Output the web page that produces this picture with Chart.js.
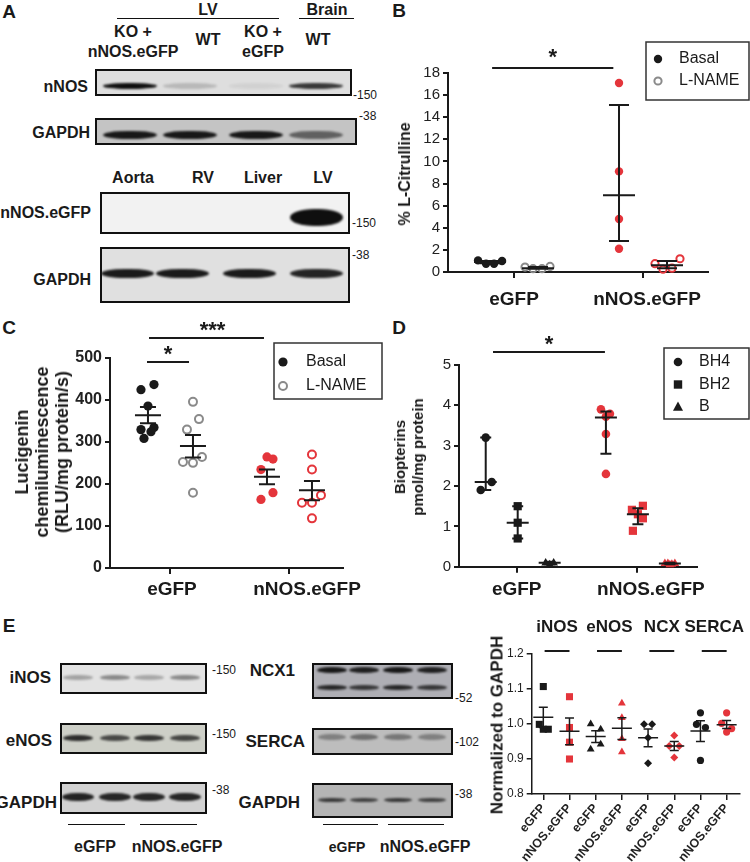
<!DOCTYPE html>
<html>
<head>
<meta charset="utf-8">
<script src="https://cdn.jsdelivr.net/npm/chart.js@4.4.1/dist/chart.umd.min.js"></script>
<style>
  html, body { margin: 0; padding: 0; background: #fff; }
  body { position: relative; width: 750px; height: 862px; overflow: hidden;
         font-family: 'Liberation Sans', Arial, sans-serif; color: #1a1a1a; }
  .t { position: absolute; white-space: pre; line-height: 1; }
  .blot { position: absolute; border: 2px solid #111; box-sizing: border-box; overflow: hidden; }
  .band { position: absolute; border-radius: 45% / 50%; filter: blur(1.2px); }
  .rule { position: absolute; height: 0; border-top: 1.5px solid #111; }
  canvas { position: absolute; }
</style>
</head>
<body>
<script>
// ---------- data ----------
// B: % L-Citrulline
const bCats = ['eGFP', 'nNOS.eGFP'];
const bYTicks = [0, 2, 4, 6, 8, 10, 12, 14, 16, 18];
const bBasal = [[1.05, 0.75, 0.75, 1.0], [17.1, 9.1, 4.8, 2.1]];
const bLname = [[0.45, 0.3, 0.3, 0.5], [0.75, 0.25, 0.35, 1.2]];
const bBasalMid = [0.9, 6.95], bBasalLo = [0.8, 2.8], bBasalHi = [1.0, 15.1];
const bLnameMid = [0.35, 0.6], bLnameLo = [0.3, 0.35], bLnameHi = [0.45, 1.0];

// C: lucigenin chemiluminescence
const cCats = ['eGFP', 'nNOS.eGFP'];
const cYTicks = [0, 100, 200, 300, 400, 500];
const cBasal = [[424, 436, 385, 329, 334, 324, 308], [264, 259, 234, 179, 163]];
const cLname = [[395, 354, 329, 264, 252, 250, 179], [270, 234, 173, 155, 155, 118]];
const cBasalMid = [363, 217], cBasalLo = [344, 199], cBasalHi = [383, 234];
const cLnameMid = [290, 185], cLnameLo = [263, 161], cLnameHi = [316, 207];

// D: biopterins
const dCats = ['eGFP', 'nNOS.eGFP'];
const dYTicks = [0, 1, 2, 3, 4, 5];
const dBH4 = [[3.2, 2.1, 1.9], [3.9, 3.79, 3.72, 3.29, 2.3]];
const dBH2 = [[1.5, 1.09, 0.7], [1.51, 1.41, 1.3, 1.2, 0.89]];
const dB = [[0.09, 0.09, 0.05], [0.08, 0.08, 0.05, 0.08, 0.06]];
const dBH4Mid = [2.1, 3.7], dBH4Lo = [1.9, 2.8], dBH4Hi = [3.2, 3.85];
const dBH2Mid = [1.09, 1.3], dBH2Lo = [0.7, 1.05], dBH2Hi = [1.5, 1.45];
const dBMid = [0.1, 0.08], dBLo = [0.06, 0.06], dBHi = [0.12, 0.1];

// E: normalized to GAPDH
const eProteins = ['iNOS', 'eNOS', 'NCX', 'SERCA'];
const eCats = ['eGFP', 'nNOS.eGFP', 'eGFP', 'nNOS.eGFP', 'eGFP', 'nNOS.eGFP', 'eGFP', 'nNOS.eGFP'];
const eYTicks = [0.8, 0.9, 1.0, 1.1, 1.2];
const eVals = [
  [1.107, 0.999, 0.985, 0.985], [1.078, 0.99, 0.948, 0.9],
  [1.0, 0.985, 0.942, 0.928], [1.059, 1.018, 0.958, 0.92],
  [0.999, 0.999, 0.961, 0.888], [0.967, 0.937, 0.937, 0.904],
  [1.032, 0.999, 0.99, 0.896], [1.032, 1.002, 0.987, 0.977]
];
const eMid = [1.019, 0.979, 0.964, 0.988, 0.961, 0.937, 0.98, 0.998];
const eLo = [0.99, 0.941, 0.947, 0.956, 0.935, 0.924, 0.95, 0.987];
const eHi = [1.048, 1.017, 0.981, 1.018, 0.986, 0.95, 1.009, 1.01];

// blot band intensities (per lane)
const aNnos = [1.0, 0.18, 0.06, 0.8];
const aGapdh1 = [0.95, 0.95, 0.95, 0.55];
const aNnosGfp = [0, 0, 0, 1.0];
const aGapdh2 = [0.95, 0.95, 0.95, 0.9];
const eInos = [0.3, 0.42, 0.28, 0.42];
const eEnos = [0.85, 0.7, 0.8, 0.72];
const eGapdhL = [0.9, 0.88, 0.88, 0.88];
const eNcxTop = [0.95, 0.9, 0.95, 0.9];
const eNcxLow = [0.85, 0.75, 0.85, 0.75];
const eSerca = [0.35, 0.45, 0.4, 0.35];
const eGapdhR = [0.75, 0.7, 0.75, 0.7];

// horizontal spread of dots inside a group (px), like the prism scatter
const bJitBasal = [[-12, -4, 4, 12], [0, 0, 0, 0]];
const bJitLname = [[-13, -5, 4, 12], [-12, -4, 5, 13]];
const cJitBasal = [[-7, 6, 0, -7, 6, 3, -4], [0, 6, -6, 6, -6]];
const cJitLname = [[0, 6, -6, 9, -10, 0, 0], [0, 0, 9, -10, 0, 0]];
const dJitBH4 = [[0, 6, -5], [-5, 4, 0, 0, 0]];
const dJitBH2 = [[0, 0, 0], [5, -6, 0, 5, -5]];
const dJitB = [[-4, 4, 0], [-5, 5, 0, -2, 2]];
const eJit = [[0, -4, 0, 5], [0, 0, 0, 0], [-5, 5, 5, -5], [0, 0, 0, 0],
              [-4, 4, 0, 0], [0, -5, 5, 0], [0, -4, 5, 0], [0, -5, 5, 0]];

// ---------- helpers ----------
const INK = '#1a1a1a', RED = '#e4353b', GREY = '#8a8a8a';
const FONT = "'Liberation Sans', Arial, sans-serif";
Chart.defaults.font.family = FONT;
Chart.defaults.color = INK;

function put(text, x, y, size, weight, align, rot, extra) {
  const d = document.createElement('div');
  d.className = 't';
  d.textContent = text;
  d.style.left = x + 'px';
  d.style.top = y + 'px';
  d.style.fontSize = size + 'px';
  d.style.fontWeight = weight || 'bold';
  const tx = align === 'r' ? '-100%' : align === 'l' ? '0' : '-50%';
  d.style.transform = `translate(${tx},-50%)` + (rot ? ` rotate(${rot}deg)` : '');
  if (extra) Object.assign(d.style, extra);
  document.body.appendChild(d);
}

function rule(x, y, w) {
  const d = document.createElement('div');
  d.className = 'rule';
  d.style.left = x + 'px'; d.style.top = y + 'px'; d.style.width = w + 'px';
  document.body.appendChild(d);
}

function blot(x, y, w, h, bg, lanes, bw, bands) {
  const b = document.createElement('div');
  b.className = 'blot';
  Object.assign(b.style, { left: x + 'px', top: y + 'px', width: w + 'px', height: h + 'px', background: bg });
  bands.forEach(([ints, by, bh]) => ints.forEach((v, i) => {
    if (v <= 0) return;
    const d = document.createElement('div');
    d.className = 'band';
    Object.assign(d.style, {
      left: (lanes[i] - bw / 2) + 'px', top: (by - bh / 2) + 'px',
      width: bw + 'px', height: bh + 'px', background: `rgba(15,15,15,${v})`
    });
    b.appendChild(d);
  }));
  document.body.appendChild(b);
}

function mark(ctx, style, x, y, r) {
  ctx.beginPath();
  if (style === 'rect') ctx.rect(x - r, y - r, 2 * r, 2 * r);
  else if (style === 'triangle') {
    ctx.moveTo(x, y - r * 1.1); ctx.lineTo(x + r, y + r * 0.75); ctx.lineTo(x - r, y + r * 0.75); ctx.closePath();
  } else ctx.arc(x, y, r, 0, Math.PI * 2);
}

// extra drawing per chart: mean/error bars, significance lines, category labels, legend
const decorCfg = new WeakMap();
Chart.register({
  id: 'decor',
  afterDatasetsDraw(chart) {
    const o = decorCfg.get(chart.canvas);
    if (!o) return;
    const ctx = chart.ctx, sx = chart.scales.x, sy = chart.scales.y;
    const ox = o.box.left, oy = o.box.top;
    ctx.save();
    ctx.strokeStyle = INK; ctx.fillStyle = INK;
    ctx.lineWidth = o.lw;
    o.stats.forEach(s => {
      const cx = sx.getPixelForValue(s.x);
      const ym = sy.getPixelForValue(s.mid), yl = sy.getPixelForValue(s.lo), yh = sy.getPixelForValue(s.hi);
      ctx.beginPath();
      ctx.moveTo(cx - o.meanHalf, ym); ctx.lineTo(cx + o.meanHalf, ym);
      ctx.moveTo(cx, yl); ctx.lineTo(cx, yh);
      ctx.moveTo(cx - o.capHalf, yl); ctx.lineTo(cx + o.capHalf, yl);
      ctx.moveTo(cx - o.capHalf, yh); ctx.lineTo(cx + o.capHalf, yh);
      ctx.stroke();
    });
    (o.sig || []).forEach(s => {
      const x1 = sx.getPixelForValue(s.x1), x2 = sx.getPixelForValue(s.x2);
      ctx.lineWidth = 2;
      ctx.beginPath(); ctx.moveTo(x1, s.y - oy); ctx.lineTo(x2, s.y - oy); ctx.stroke();
      ctx.font = s.font; ctx.textAlign = 'center'; ctx.textBaseline = 'middle';
      ctx.fillText(s.text, (x1 + x2) / 2 + (s.dx || 0), s.ty - oy);
    });
    if (o.cats) {
      ctx.font = o.cats.font; ctx.textAlign = 'center'; ctx.textBaseline = 'middle';
      o.cats.labels.forEach((t, i) => ctx.fillText(t, sx.getPixelForValue(i + 1) + o.cats.shift[i], o.cats.y - oy));
    }
    const g = o.legend;
    if (g) {
      ctx.lineWidth = 1.5; ctx.strokeStyle = '#333';
      ctx.strokeRect(g.x - ox, g.y - oy, g.w, g.h);
      g.items.forEach((it, i) => {
        const py = g.y0 + i * g.dy - oy;
        mark(ctx, it.style, g.mx - ox, py, it.r);
        if (it.open) { ctx.strokeStyle = it.color; ctx.lineWidth = 2; ctx.stroke(); }
        else { ctx.fillStyle = it.color; ctx.fill(); }
        ctx.fillStyle = INK; ctx.font = '16px ' + FONT;
        ctx.textAlign = 'left'; ctx.textBaseline = 'middle';
        ctx.fillText(it.label, g.tx - ox, py);
      });
    }
    ctx.restore();
  }
});

function series(vals, cat, offPx, jit, pxu, style, r, fill, stroke, bw) {
  return {
    data: vals.map((v, i) => ({ x: cat + (offPx + jit[i]) / pxu, y: v })),
    pointStyle: style, pointRadius: r, pointHoverRadius: r,
    pointBackgroundColor: fill, pointBorderColor: stroke, pointBorderWidth: bw,
    showLine: false, clip: false
  };
}

function scales(box, area, xr, xt, yr, yt, yfont, lw, yfmt) {
  return {
    x: {
      type: 'linear', min: xr[0], max: xr[1],
      afterBuildTicks: s => { s.ticks = xt.map(v => ({ value: v })); },
      afterFit: s => { s.height = box.top + box.h - area.b; },
      grid: { drawOnChartArea: false, drawTicks: true, tickLength: 6, color: INK, lineWidth: lw },
      border: { display: true, color: INK, width: lw },
      ticks: { display: false }
    },
    y: {
      type: 'linear', min: yr[0], max: yr[1],
      afterBuildTicks: s => { s.ticks = yt.map(v => ({ value: v })); },
      afterFit: s => { s.width = area.l - box.left; },
      grid: { drawOnChartArea: false, drawTicks: true, tickLength: 5, color: INK, lineWidth: lw },
      border: { display: true, color: INK, width: lw },
      ticks: { font: yfont, color: '#222', padding: 3, callback: yfmt || (v => String(v)) }
    }
  };
}

function make(box, area, sc, datasets, deco) {
  const c = document.createElement('canvas');
  c.width = box.w; c.height = box.h;
  c.style.left = box.left + 'px'; c.style.top = box.top + 'px';
  document.body.appendChild(c);
  decorCfg.set(c, Object.assign({ box }, deco));
  return new Chart(c, {
    type: 'scatter',
    data: { datasets },
    options: {
      responsive: false, animation: false, devicePixelRatio: 1,
      layout: { padding: { left: 0, top: area.t - box.top, right: box.left + box.w - area.r, bottom: 0 } },
      plugins: { legend: { display: false }, tooltip: { enabled: false } },
      scales: sc
    }
  });
}

function statList(cats, off, pxu, mid, lo, hi) {
  return cats.map((c, i) => ({ x: i + 1 + off / pxu, mid: mid[i], lo: lo[i], hi: hi[i] }));
}

// ---------- panel letters ----------
put('A', 9, 11, 19, 'bold', 'c');
put('B', 399, 10, 19, 'bold', 'c');
put('C', 9, 327, 19, 'bold', 'c');
put('D', 399, 327, 19, 'bold', 'c');
put('E', 9, 625, 19, 'bold', 'c');

// ---------- panel A (blots) ----------
put('LV', 208, 10, 16); rule(117, 18, 162);
put('Brain', 327, 10, 16); rule(299, 18, 55);
put('KO +', 133, 32, 16); put('nNOS.eGFP', 133, 52, 16);
put('WT', 208, 40, 16);
put('KO +', 263, 32, 16); put('eGFP', 263, 52, 16);
put('WT', 318, 40, 16);
put('nNOS', 88, 87, 16, 'bold', 'r');
put('GAPDH', 90, 133, 16, 'bold', 'r');
blot(95, 69, 257, 27, '#dedede', [33, 93, 159, 219], 54, [[aNnos, 15, 6]]);
blot(95, 118, 262, 27, '#c4c4c4', [33, 93, 159, 219], 54, [[aGapdh1, 15, 8]]);
put('-150', 353, 95, 12, 'normal', 'l');
put('-38', 359, 116, 12, 'normal', 'l');
put('Aorta', 133, 178, 16); put('RV', 203, 178, 16); put('Liver', 263, 178, 16); put('LV', 323, 178, 16);
put('nNOS.eGFP', 91, 213, 16, 'bold', 'r');
put('GAPDH', 91, 280, 16, 'bold', 'r');
blot(100, 192, 250, 42, '#f2f2f2', [25, 80, 147, 214], 53, [[aNnosGfp, 23, 17]]);
blot(100, 247, 250, 56, '#e0e0e0', [25, 80, 147, 214], 53, [[aGapdh2, 24, 9]]);
put('-150', 352, 223, 12, 'normal', 'l');
put('-38', 352, 255, 12, 'normal', 'l');

// ---------- panel E (blots) ----------
const lanesL = [16, 53, 87, 123], lanesR = [18, 50, 84, 118];
put('iNOS', 51, 677, 17, 'bold', 'r');
put('eNOS', 52, 740, 17, 'bold', 'r');
put('GAPDH', 57, 802, 17, 'bold', 'r');
blot(60, 663, 147, 31, '#e3e3e3', lanesL, 30, [[eInos, 12, 5]]);
blot(60, 723, 147, 31, '#cdcfc7', lanesL, 30, [[eEnos, 13, 6]]);
blot(60, 782, 147, 32, '#d2d2d2', lanesL, 32, [[eGapdhL, 13, 8]]);
put('-150', 212, 670, 12, 'normal', 'l');
put('-150', 212, 734, 12, 'normal', 'l');
put('-38', 212, 790, 12, 'normal', 'l');
rule(68, 824, 57); rule(140, 824, 57);
put('eGFP', 95, 847, 16); put('nNOS.eGFP', 177, 847, 16);

put('NCX1', 295, 670, 17, 'bold', 'r');
put('SERCA', 305, 741, 17, 'bold', 'r');
put('GAPDH', 300, 802, 17, 'bold', 'r');
blot(312, 663, 141, 36, '#aeaeb4', lanesR, 30, [[eNcxTop, 5, 6], [eNcxLow, 22, 5]]);
blot(312, 728, 141, 27, '#bdbdbd', lanesR, 28, [[eSerca, 7, 6]]);
blot(312, 783, 141, 35, '#b4b4b4', lanesR, 28, [[eGapdhR, 15, 4]]);
put('-52', 455, 698, 12, 'normal', 'l');
put('-102', 455, 742, 12, 'normal', 'l');
put('-38', 455, 794, 12, 'normal', 'l');
rule(323, 824, 55); rule(388, 824, 56);
put('eGFP', 347, 847, 14); put('nNOS.eGFP', 425, 847, 16);

// ---------- panel B ----------
{
  const box = { left: 360, top: 30, w: 390, h: 290 };
  const area = { l: 448, r: 708, t: 73, b: 272 };
  const pxu = 129;
  const ds = [];
  bCats.forEach((c, i) => {
    const base = i === 0 ? INK : RED;
    ds.push(series(bBasal[i], i + 1, -24, bJitBasal[i], pxu, 'circle', 4.2, base, base, 0));
    ds.push(series(bLname[i], i + 1, 24, bJitLname[i], pxu, 'circle', 3.6, 'rgba(0,0,0,0)', i === 0 ? GREY : RED, 2));
  });
  make(box, area,
    scales(box, area, [0.488, 2.504], [1, 2], [0, 18], bYTicks, { size: 15 }, 2),
    ds, {
      lw: 2, meanHalf: 16, capHalf: 10,
      stats: statList(bCats, -24, pxu, bBasalMid, bBasalLo, bBasalHi)
        .concat(statList(bCats, 24, pxu, bLnameMid, bLnameLo, bLnameHi)),
      sig: [{ x1: 0.83, x2: 1.77, y: 68, text: '*', ty: 58, font: 'bold 22px ' + FONT }],
      cats: { labels: bCats, shift: [0, 4], y: 300, font: 'bold 19px ' + FONT },
      legend: { x: 646, y: 42, w: 103, h: 58, y0: 59, dy: 22, mx: 658, tx: 679,
        items: [{ label: 'Basal', style: 'circle', r: 4.2, color: INK },
                { label: 'L-NAME', style: 'circle', r: 3.6, color: GREY, open: true }] }
    });
  put('% L-Citrulline', 405, 174, 16, 'bold', 'c', -90);
}

// ---------- panel C ----------
{
  const box = { left: 0, top: 320, w: 385, h: 280 };
  const area = { l: 110, r: 343, t: 357.7, b: 568 };
  const pxu = 119;
  const ds = [];
  cCats.forEach((c, i) => {
    const base = i === 0 ? INK : RED;
    ds.push(series(cBasal[i], i + 1, -22, cJitBasal[i], pxu, 'circle', 4.6, base, base, 0));
    ds.push(series(cLname[i], i + 1, 23, cJitLname[i], pxu, 'circle', 4, 'rgba(0,0,0,0)', i === 0 ? GREY : RED, 2));
  });
  make(box, area,
    scales(box, area, [0.496, 2.454], [1, 2], [0, 500], cYTicks, { size: 16, weight: 'bold' }, 2),
    ds, {
      lw: 2, meanHalf: 13, capHalf: 8,
      stats: statList(cCats, -22, pxu, cBasalMid, cBasalLo, cBasalHi)
        .concat(statList(cCats, 23, pxu, cLnameMid, cLnameLo, cLnameHi)),
      sig: [{ x1: 0.807, x2: 1.16, y: 362, text: '*', ty: 355, font: 'bold 22px ' + FONT },
            { x1: 0.824, x2: 1.79, y: 338, text: '***', ty: 331, dx: 6, font: 'bold 22px ' + FONT }],
      cats: { labels: cCats, shift: [2, 18], y: 590, font: 'bold 19px ' + FONT },
      legend: { x: 274, y: 343, w: 108, h: 56, y0: 362, dy: 24, mx: 283, tx: 306,
        items: [{ label: 'Basal', style: 'circle', r: 4.6, color: INK },
                { label: 'L-NAME', style: 'circle', r: 4, color: GREY, open: true }] }
    });
  put('Lucigenin\nchemiluminescence\n(RLU/mg protein/s)', 42, 452, 18, 'bold', 'c', -90,
      { lineHeight: '20px', textAlign: 'center' });
}

// ---------- panel D ----------
{
  const box = { left: 380, top: 320, w: 370, h: 280 };
  const area = { l: 459, r: 697, t: 365, b: 566.7 };
  const pxu = 120.3;
  const ds = [];
  dCats.forEach((c, i) => {
    const base = i === 0 ? INK : RED;
    ds.push(series(dBH4[i], i + 1, -31, dJitBH4[i], pxu, 'circle', 4.3, base, base, 0));
    ds.push(series(dBH2[i], i + 1, 1, dJitBH2[i], pxu, 'rect', 5.8, base, base, 0));
    ds.push(series(dB[i], i + 1, 33, dJitB[i], pxu, 'triangle', 5, base, base, 0));
  });
  make(box, area,
    scales(box, area, [0.52, 2.5], [1, 2], [0, 5], dYTicks, { size: 15 }, 2),
    ds, {
      lw: 2, meanHalf: 11, capHalf: 5.5,
      stats: statList(dCats, -31, pxu, dBH4Mid, dBH4Lo, dBH4Hi)
        .concat(statList(dCats, 1, pxu, dBH2Mid, dBH2Lo, dBH2Hi))
        .concat(statList(dCats, 33, pxu, dBMid, dBLo, dBHi)),
      sig: [{ x1: 0.803, x2: 1.734, y: 352, text: '*', ty: 345, font: 'bold 22px ' + FONT }],
      cats: { labels: dCats, shift: [0, 14], y: 590, font: 'bold 19px ' + FONT },
      legend: { x: 664, y: 348, w: 85, h: 71, y0: 362, dy: 22.5, mx: 678, tx: 699,
        items: [{ label: 'BH4', style: 'circle', r: 4.3, color: INK },
                { label: 'BH2', style: 'rect', r: 4.2, color: INK },
                { label: 'B', style: 'triangle', r: 5, color: INK }] }
    });
  put('Biopterins\npmol/mg protein', 409, 457, 15, 'bold', 'c', -90,
      { lineHeight: '18px', textAlign: 'center' });
}

// ---------- panel E chart ----------
{
  const box = { left: 460, top: 600, w: 290, h: 262 };
  const area = { l: 531.7, r: 740, t: 654, b: 794 };
  const pxu = 26.2;
  const styles = ['rect', 'rect', 'triangle', 'triangle', 'rectRot', 'rectRot', 'circle', 'circle'];
  const radii = [5, 5, 4.5, 4.5, 4, 4, 3.6, 3.6];
  const ds = eVals.map((vals, i) => {
    const col = i % 2 === 0 ? INK : RED;
    return series(vals, i + 1, 0, eJit[i], pxu, styles[i], radii[i], col, col, 0);
  });
  const sc = scales(box, area, [0.557, 8.51], eCats.map((c, i) => i + 1), [0.8, 1.2], eYTicks,
    { size: 12 }, 1.5, v => v.toFixed(1));
  sc.x.ticks = { display: true, autoSkip: false, minRotation: 50, maxRotation: 50, padding: 1,
    font: { size: 12.5, weight: 'bold' }, color: '#222', callback: v => eCats[v - 1] };
  make(box, area, sc, ds, {
    lw: 1.5, meanHalf: 10, capHalf: 4.5,
    stats: eMid.map((m, i) => ({ x: i + 1, mid: m, lo: eLo[i], hi: eHi[i] })),
    sig: eProteins.map((p, k) => ({ x1: 2 * k + 1.05, x2: 2 * k + 2, y: 651, text: p, ty: 627,
      font: 'bold 17px ' + FONT }))
  });
  put('Normalized to GAPDH', 497, 725, 17, 'bold', 'c', -90);
}
</script>
</body>
</html>
